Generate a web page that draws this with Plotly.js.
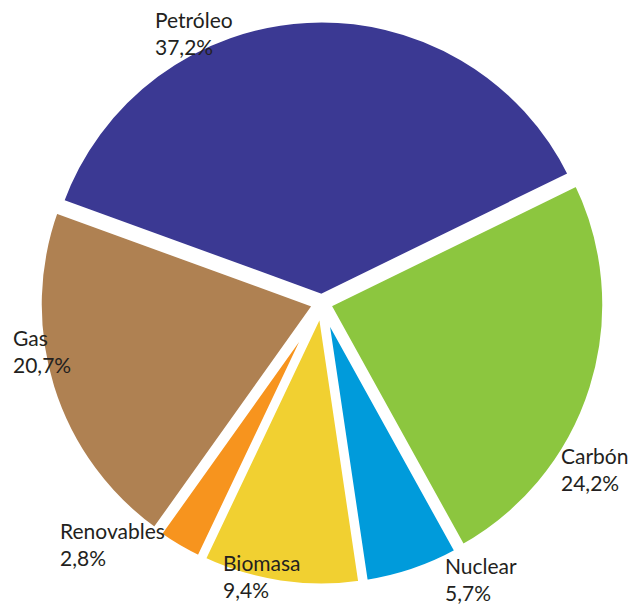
<!DOCTYPE html>
<html>
<head>
<meta charset="utf-8">
<script src="https://cdn.plot.ly/plotly-3.0.1.min.js"></script>
<style>html,body{margin:0;padding:0;background:#fff}#chart{width:639px;height:605px}</style>
</head>
<body>
<div id="chart"></div>
<script>
var categories = ["Petróleo", "Carbón", "Nuclear", "Biomasa", "Renovables", "Gas"];
var values = [37.2, 24.2, 5.7, 9.4, 2.8, 20.7];
var colors = ["#3B3993", "#8CC63F", "#009BDB", "#F1D031", "#F7941E", "#AF8152"];

var W = 639, H = 605;
function px(x){ return x / W; }
function py(y){ return 1 - y / H; }

// label anchor positions (top-left of each text block), pixels
var labelPos = {
  "Petróleo": [153, 5],
  "Carbón": [559, 441],
  "Nuclear": [443, 551],
  "Biomasa": [221, 548],
  "Renovables": [58, 516],
  "Gas": [11, 323]
};

function fmt(v){ return v.toFixed(1).replace('.', ',') + '%'; }

var annotations = categories.map(function(c, i){
  return {
    text: c + '<br>' + fmt(values[i]),
    x: px(labelPos[c][0]), y: py(labelPos[c][1]),
    xref: 'paper', yref: 'paper', xanchor: 'left', yanchor: 'top',
    align: 'left', showarrow: false,
    font: {family: 'Lato, "Open Sans", sans-serif', size: 21, color: '#231F20'}
  };
});

var trace = {
  type: 'pie',
  labels: categories,
  values: values,
  sort: false,
  direction: 'clockwise',
  rotation: -70,
  pull: [0.02, 0.02, 0.02, 0.02, 0.02, 0.02],
  textinfo: 'none',
  hoverinfo: 'label+percent',
  marker: {colors: colors, line: {color: '#ffffff', width: 7}},
  domain: {x: [px(322 - 284), px(322 + 284)], y: [py(303 + 284), py(303 - 284)]},
  showlegend: false
};

var layout = {
  width: W, height: H,
  margin: {l: 0, r: 0, t: 0, b: 0},
  paper_bgcolor: '#ffffff',
  separators: ',.',
  showlegend: false,
  annotations: annotations
};

Plotly.newPlot('chart', [trace], layout, {displayModeBar: false, staticPlot: true});
</script>
</body>
</html>
